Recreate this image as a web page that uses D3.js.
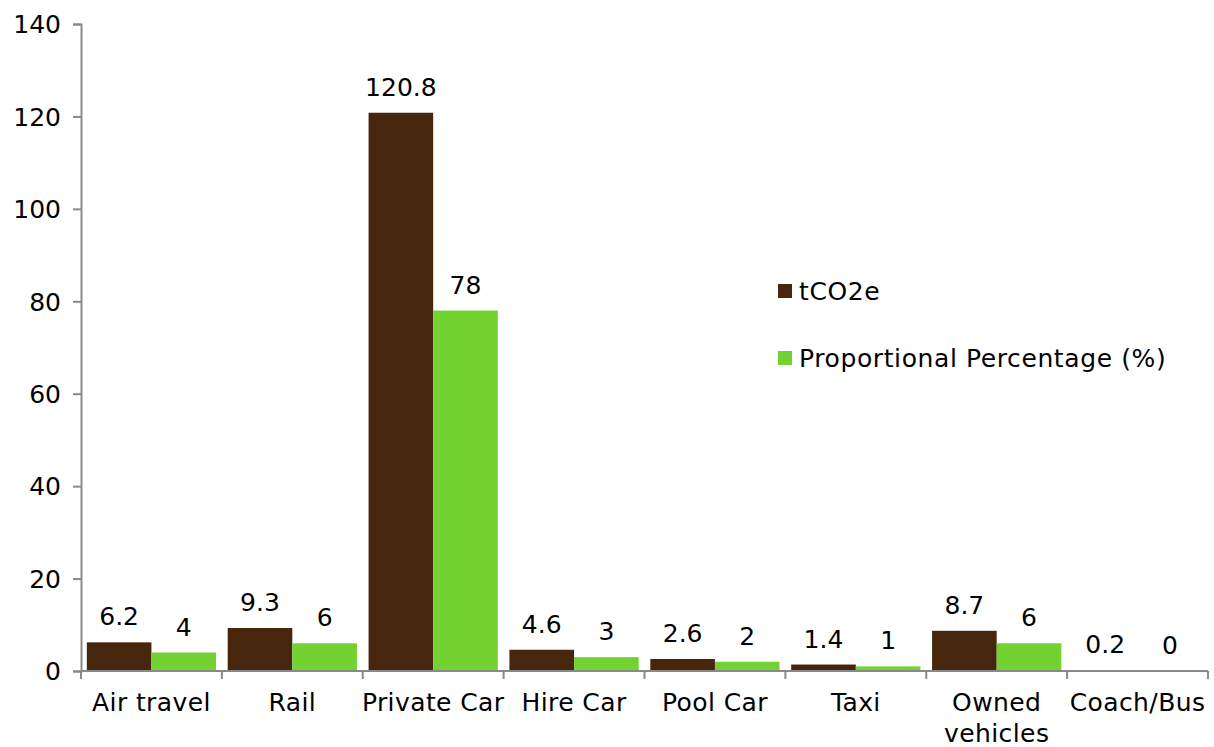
<!DOCTYPE html>
<html>
<head>
<meta charset="utf-8">
<script src="https://cdn.jsdelivr.net/npm/d3@7"></script>
<style>
  body { margin: 0; background: #fff; }
  text { font-family: "DejaVu Sans", sans-serif; fill: #000; }
</style>
</head>
<body>
<div id="chart"></div>
<script>
const categories = ['Air travel', 'Rail', 'Private Car', 'Hire Car', 'Pool Car', 'Taxi', 'Owned vehicles', 'Coach/Bus'];
const seriesNames = ['tCO2e', 'Proportional Percentage (%)'];
const tco2e = [6.2, 9.3, 120.8, 4.6, 2.6, 1.4, 8.7, 0.2];
const percentage = [4, 6, 78, 3, 2, 1, 6, 0];
const yTicks = [0, 20, 40, 60, 80, 100, 120, 140];

const colors = ['#46270e', '#72d232'];
const width = 1214, height = 747;
const margin = {top: 24, right: 6, bottom: 76, left: 81};

const svg = d3.select('#chart').append('svg')
  .attr('width', width)
  .attr('height', height);

const innerW = width - margin.left - margin.right;
const innerH = height - margin.top - margin.bottom;

const chart = svg.append('g')
  .attr('transform', `translate(${margin.left},${margin.top})`);

const x = d3.scaleBand().domain(categories).range([0, innerW]);
const x1 = d3.scaleBand().domain(seriesNames).range([0, x.bandwidth()]).paddingOuter(0.09);
const y = d3.scaleLinear().domain([0, 140]).range([innerH, 0]);

const rows = categories.map((c, i) => ({cat: c, values: [tco2e[i], percentage[i]]}));

// bars
const groups = chart.selectAll('.group')
  .data(rows)
  .join('g')
  .attr('class', 'group')
  .attr('transform', d => `translate(${x(d.cat)},0)`);

groups.selectAll('rect')
  .data(d => d.values.map((v, j) => ({key: seriesNames[j], v, j})))
  .join('rect')
  .attr('x', d => x1(d.key))
  .attr('y', d => y(d.v))
  .attr('width', x1.bandwidth())
  .attr('height', d => innerH - y(d.v))
  .attr('fill', d => colors[d.j]);

groups.selectAll('.val')
  .data(d => d.values.map((v, j) => ({key: seriesNames[j], v, j})))
  .join('text')
  .attr('class', 'val')
  .attr('text-anchor', 'middle')
  .attr('x', d => x1(d.key) + x1.bandwidth() / 2)
  .attr('y', d => y(d.v) - 17)
  .style('font-size', '25px')
  .text(d => d.v);

// y axis
const yAxis = chart.append('g')
  .call(d3.axisLeft(y).tickValues(yTicks).tickSize(8).tickPadding(12));
yAxis.select('.domain').attr('stroke', '#898989').attr('stroke-width', 2);
yAxis.selectAll('.tick line').attr('stroke', '#898989').attr('stroke-width', 2);
yAxis.selectAll('.tick text').style('font-size', '25px').attr('dy', '0.35em');

// x axis
const xAxis = chart.append('g')
  .attr('transform', `translate(0,${innerH})`);
xAxis.append('line')
  .attr('x1', 0).attr('x2', innerW)
  .attr('stroke', '#898989').attr('stroke-width', 2);
xAxis.selectAll('.xtick')
  .data(d3.range(categories.length + 1))
  .join('line')
  .attr('class', 'xtick')
  .attr('x1', i => i < categories.length ? x(categories[i]) : innerW)
  .attr('x2', i => i < categories.length ? x(categories[i]) : innerW)
  .attr('y1', 0).attr('y2', 8)
  .attr('stroke', '#898989').attr('stroke-width', 2);

const catLabels = xAxis.selectAll('.cat')
  .data(categories)
  .join('text')
  .attr('class', 'cat')
  .attr('text-anchor', 'middle')
  .attr('x', d => x(d) + x.bandwidth() / 2)
  .attr('y', 40)
  .style('font-size', '25px')
  .style('letter-spacing', '0.4px');
catLabels.each(function(d) {
  const words = d === 'Owned vehicles' ? ['Owned', 'vehicles'] : [d];
  d3.select(this).selectAll('tspan')
    .data(words)
    .join('tspan')
    .attr('x', x(d) + x.bandwidth() / 2)
    .attr('dy', (w, k) => k === 0 ? 0 : 31)
    .text(w => w);
});

// legend
const legend = svg.append('g')
  .attr('transform', 'translate(778,284)');
const items = legend.selectAll('.item')
  .data(seriesNames)
  .join('g')
  .attr('class', 'item')
  .attr('transform', (d, i) => `translate(0,${i * 67})`);
items.append('rect')
  .attr('width', 14).attr('height', 14)
  .attr('fill', (d, i) => colors[i]);
items.append('text')
  .attr('x', 21).attr('y', 16)
  .style('font-size', '25px')
  .style('letter-spacing', '0.6px')
  .text(d => d);
</script>
</body>
</html>
